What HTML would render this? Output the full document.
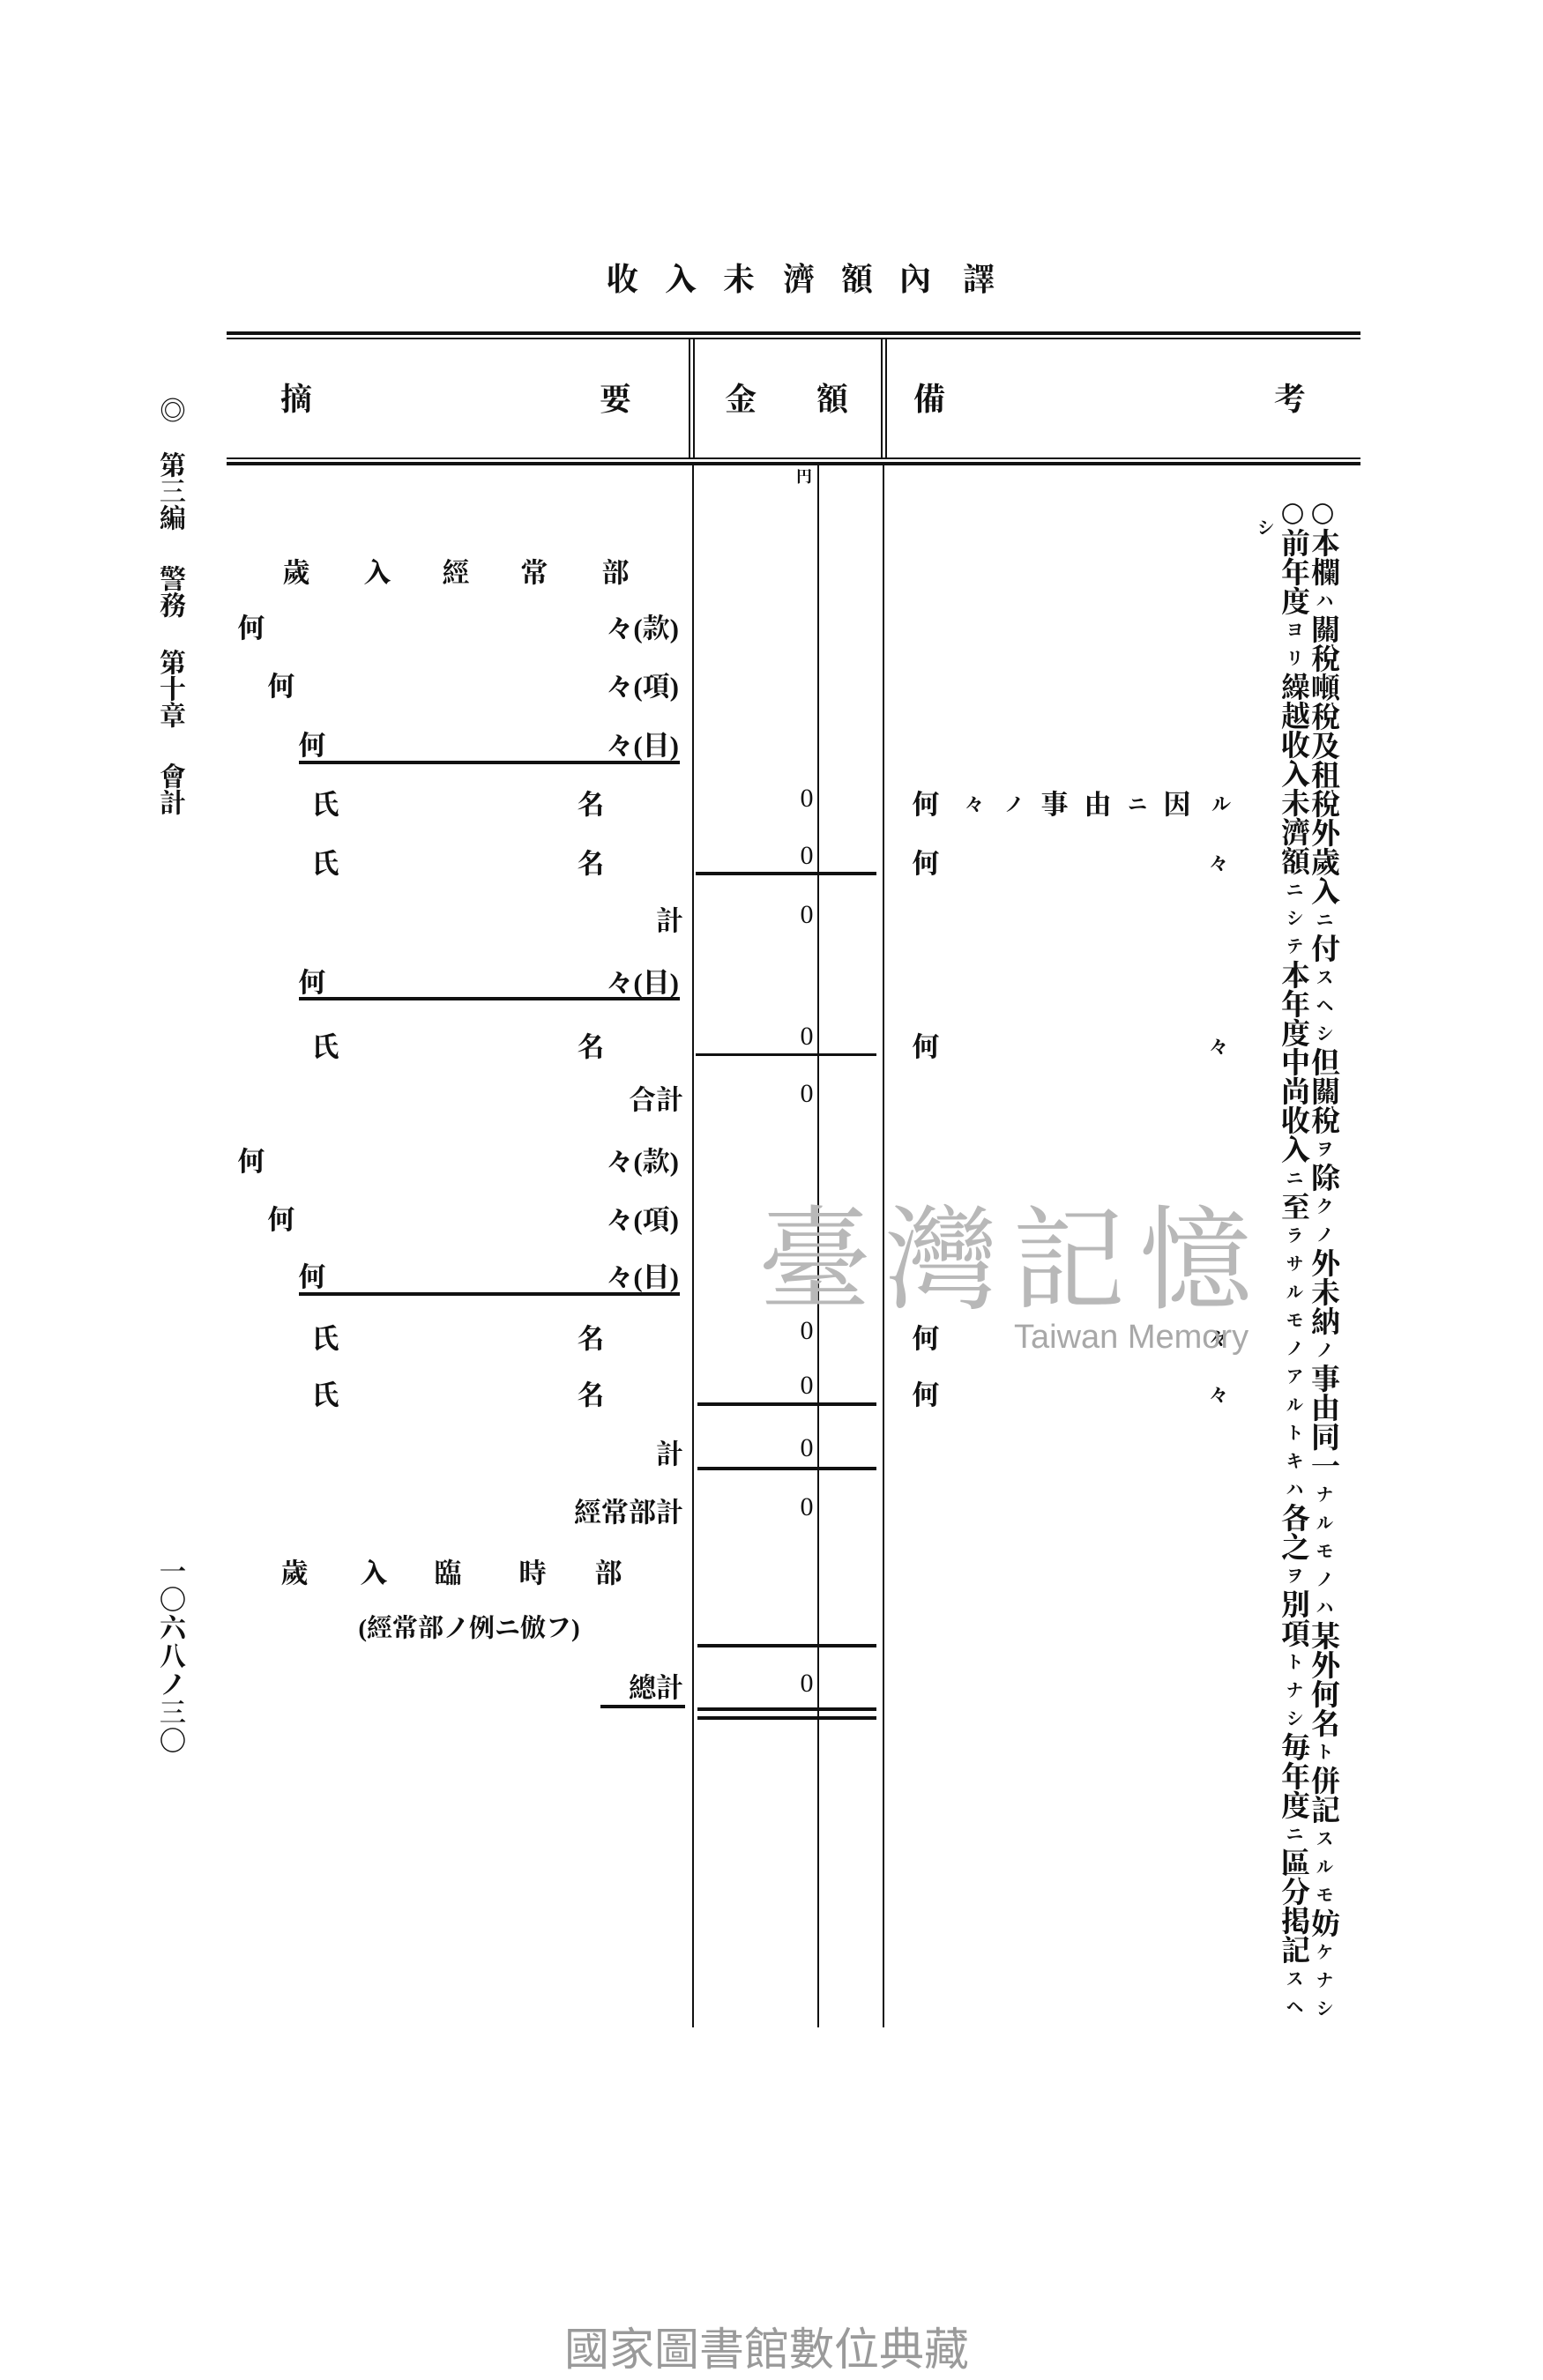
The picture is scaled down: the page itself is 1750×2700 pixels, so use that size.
<!DOCTYPE html>
<html><head><meta charset="utf-8">
<style>
html,body{margin:0;padding:0;background:#fff;}
body{width:1750px;height:2700px;position:relative;overflow:hidden;font-family:"Liberation Serif","Noto Serif CJK SC","Noto Sans CJK JP",serif;color:#111;}
.t{position:absolute;font-weight:bold;font-size:31px;line-height:1;white-space:nowrap;transform:translate(-50%,-50%);}
.r{transform:translate(-100%,-50%);}
.l{transform:translate(0,-50%);}
.h{position:absolute;background:#111;}
.v{position:absolute;writing-mode:vertical-rl;font-weight:bold;font-size:33px;line-height:1;white-space:nowrap;}
.v s{text-decoration:none;font-size:20px;margin-inline:6px;font-weight:bold;}
.v b{font-family:"DejaVu Sans",sans-serif;font-weight:normal;font-size:31px;}
.z{font-family:"Liberation Serif",serif;font-weight:normal;font-size:30px;}
</style></head><body>

<!-- title -->
<div class="t" style="left:706px;top:317px;font-size:36px">收</div>
<div class="t" style="left:772px;top:317px;font-size:36px">入</div>
<div class="t" style="left:838px;top:317px;font-size:36px">未</div>
<div class="t" style="left:906px;top:317px;font-size:36px">濟</div>
<div class="t" style="left:972px;top:317px;font-size:36px">額</div>
<div class="t" style="left:1038px;top:317px;font-size:36px">內</div>
<div class="t" style="left:1110px;top:317px;font-size:36px">譯</div>

<!-- header rules -->
<div class="h" style="left:257px;top:376px;width:1286px;height:4px"></div>
<div class="h" style="left:257px;top:383px;width:1286px;height:2px"></div>
<div class="h" style="left:257px;top:519px;width:1286px;height:2px"></div>
<div class="h" style="left:257px;top:524px;width:1286px;height:4px"></div>
<div class="h" style="left:781px;top:385px;width:2px;height:135px"></div>
<div class="h" style="left:786px;top:385px;width:2px;height:135px"></div>
<div class="h" style="left:999px;top:385px;width:2px;height:135px"></div>
<div class="h" style="left:1004px;top:385px;width:2px;height:135px"></div>

<div class="t" style="left:336px;top:453px;font-size:36px">摘</div>
<div class="t" style="left:698px;top:453px;font-size:36px">要</div>
<div class="t" style="left:840px;top:453px;font-size:36px">金</div>
<div class="t" style="left:944px;top:453px;font-size:36px">額</div>
<div class="t" style="left:1054px;top:453px;font-size:36px">備</div>
<div class="t" style="left:1463px;top:453px;font-size:36px">考</div>

<!-- body column lines -->
<div class="h" style="left:785px;top:528px;width:2px;height:1772px"></div>
<div class="h" style="left:927px;top:528px;width:2px;height:1772px"></div>
<div class="h" style="left:1001px;top:528px;width:2px;height:1772px"></div>
<div class="t" style="left:912px;top:541px;font-size:18px">円</div>

<!-- rows -->
<div class="t" style="left:336px;top:650px">歲</div>
<div class="t" style="left:428px;top:650px">入</div>
<div class="t" style="left:517px;top:650px">經</div>
<div class="t" style="left:606px;top:650px">常</div>
<div class="t" style="left:698px;top:650px">部</div>

<div class="t" style="left:285px;top:713px">何</div><div class="t r" style="left:770px;top:713px">々(款)</div>
<div class="t" style="left:319px;top:779px">何</div><div class="t r" style="left:770px;top:779px">々(項)</div>
<div class="t" style="left:354px;top:846px">何</div><div class="t r" style="left:770px;top:846px">々(目)</div>
<div class="h" style="left:339px;top:863px;width:432px;height:4px"></div>

<div class="t" style="left:369px;top:913px">氏</div><div class="t" style="left:670px;top:913px">名</div>
<div class="t z" style="left:915px;top:906px">0</div>
<div class="t" style="left:1050px;top:913px">何</div>
<div class="t" style="left:1105px;top:913px;font-size:22px">々</div>
<div class="t" style="left:1150px;top:913px;font-size:22px">ノ</div>
<div class="t" style="left:1196px;top:913px">事</div>
<div class="t" style="left:1245px;top:913px">由</div>
<div class="t" style="left:1290px;top:913px;font-size:22px">ニ</div>
<div class="t" style="left:1335px;top:913px">因</div>
<div class="t" style="left:1385px;top:913px;font-size:22px">ル</div>

<div class="t" style="left:369px;top:980px">氏</div><div class="t" style="left:670px;top:980px">名</div>
<div class="t z" style="left:915px;top:971px">0</div>
<div class="t" style="left:1050px;top:980px">何</div><div class="t" style="left:1382px;top:980px;font-size:22px">々</div>
<div class="h" style="left:789px;top:989px;width:205px;height:4px"></div>

<div class="t r" style="left:775px;top:1045px">計</div><div class="t z" style="left:915px;top:1038px">0</div>

<div class="t" style="left:354px;top:1115px">何</div><div class="t r" style="left:770px;top:1115px">々(目)</div>
<div class="h" style="left:339px;top:1131px;width:432px;height:4px"></div>

<div class="t" style="left:369px;top:1188px">氏</div><div class="t" style="left:670px;top:1188px">名</div>
<div class="t z" style="left:915px;top:1176px">0</div>
<div class="t" style="left:1050px;top:1188px">何</div><div class="t" style="left:1382px;top:1188px;font-size:22px">々</div>
<div class="h" style="left:789px;top:1195px;width:205px;height:3px"></div>

<div class="t r" style="left:775px;top:1248px">合計</div><div class="t z" style="left:915px;top:1241px">0</div>

<div class="t" style="left:285px;top:1318px">何</div><div class="t r" style="left:770px;top:1318px">々(款)</div>
<div class="t" style="left:319px;top:1384px">何</div><div class="t r" style="left:770px;top:1384px">々(項)</div>
<div class="t" style="left:354px;top:1449px">何</div><div class="t r" style="left:770px;top:1449px">々(目)</div>
<div class="h" style="left:339px;top:1466px;width:432px;height:4px"></div>

<div class="t" style="left:369px;top:1519px">氏</div><div class="t" style="left:670px;top:1519px">名</div>
<div class="t z" style="left:915px;top:1510px">0</div>
<div class="t" style="left:1050px;top:1519px">何</div><div class="t" style="left:1382px;top:1519px;font-size:22px">々</div>

<div class="t" style="left:369px;top:1583px">氏</div><div class="t" style="left:670px;top:1583px">名</div>
<div class="t z" style="left:915px;top:1572px">0</div>
<div class="t" style="left:1050px;top:1583px">何</div><div class="t" style="left:1382px;top:1583px;font-size:22px">々</div>
<div class="h" style="left:791px;top:1591px;width:203px;height:4px"></div>

<div class="t r" style="left:775px;top:1650px">計</div><div class="t z" style="left:915px;top:1643px">0</div>
<div class="h" style="left:791px;top:1664px;width:203px;height:4px"></div>

<div class="t r" style="left:775px;top:1716px">經常部計</div><div class="t z" style="left:915px;top:1710px">0</div>

<div class="t" style="left:334px;top:1785px">歲</div>
<div class="t" style="left:424px;top:1785px">入</div>
<div class="t" style="left:508px;top:1785px">臨</div>
<div class="t" style="left:604px;top:1785px">時</div>
<div class="t" style="left:690px;top:1785px">部</div>
<div class="t" style="left:532px;top:1848px;font-size:29px">(經常部ノ例ニ倣フ)</div>

<div class="h" style="left:791px;top:1865px;width:203px;height:4px"></div>
<div class="t r" style="left:775px;top:1915px">總計</div><div class="t z" style="left:915px;top:1910px">0</div>
<div class="h" style="left:681px;top:1934px;width:96px;height:4px"></div>
<div class="h" style="left:791px;top:1937px;width:203px;height:4px"></div>
<div class="h" style="left:791px;top:1947px;width:203px;height:4px"></div>

<!-- right vertical notes -->
<div class="v" style="left:1483px;top:563px"><b>○</b>本欄<s>ハ</s>關稅噸稅及租稅外歲入<s>ニ</s>付<s>ス</s><s>ヘ</s><s>シ</s>但關稅<s>ヲ</s>除<s>ク</s><s>ノ</s>外未納<s>ノ</s>事由同一<s>ナ</s><s>ル</s><s>モ</s><s>ノ</s><s>ハ</s>某外何名<s>ト</s>併記<s>ス</s><s>ル</s><s>モ</s>妨<s>ケ</s><s>ナ</s><s>シ</s></div>
<div class="v" style="left:1449px;top:563px"><b>○</b>前年度<s>ヨ</s><s>リ</s>繰越收入未濟額<s>ニ</s><s>シ</s><s>テ</s>本年度中尚收入<s>ニ</s>至<s>ラ</s><s>サ</s><s>ル</s><s>モ</s><s>ノ</s><s>ア</s><s>ル</s><s>ト</s><s>キ</s><s>ハ</s>各之<s>ヲ</s>別項<s>ト</s><s>ナ</s><s>シ</s>毎年度<s>ニ</s>區分掲記<s>ス</s><s>ヘ</s></div>
<div class="v" style="left:1423px;top:588px;font-size:20px">シ</div>

<!-- left margin -->
<div class="v" style="left:177px;top:450px;font-size:30px">◎</div>
<div class="v" style="left:177px;top:512px;font-size:30px">第三編</div>
<div class="v" style="left:177px;top:641px;font-size:30px">警務</div>
<div class="v" style="left:177px;top:736px;font-size:30px">第十章</div>
<div class="v" style="left:177px;top:865px;font-size:30px">會計</div>
<div class="v" style="left:177px;top:1767px;font-size:30px;letter-spacing:2px">一〇六八ノ三〇</div>

<!-- watermark -->
<div style="position:absolute;left:860px;top:1355px;font-family:'Noto Serif CJK SC',serif;font-size:128px;line-height:1;color:#b8b8b8;letter-spacing:16px;white-space:nowrap">臺灣記憶</div>
<div style="position:absolute;left:1150px;top:1498px;font-family:'Liberation Sans',sans-serif;font-size:38px;line-height:1;color:#a8a8a8;white-space:nowrap">Taiwan Memory</div>

<div style="position:absolute;left:640px;top:2640px;font-family:'Liberation Sans','Noto Sans CJK TC',sans-serif;font-size:51px;line-height:1;color:#9a9a9a;white-space:nowrap">國家圖書館數位典藏</div>
</body></html>
